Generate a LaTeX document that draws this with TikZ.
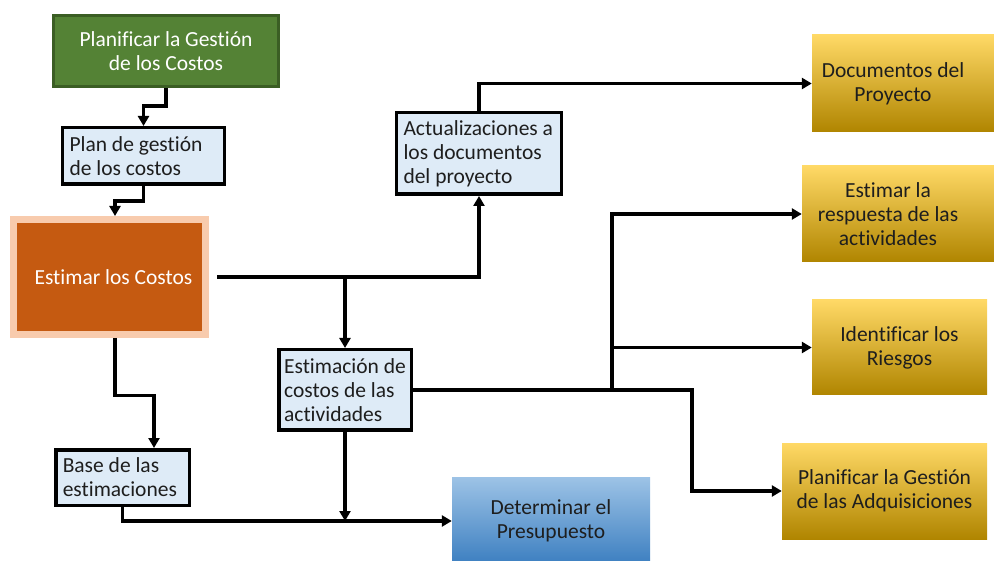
\documentclass[tikz,border=0pt]{standalone}
\usepackage{fontspec}
\setmainfont{Carlito}[Ligatures={NoCommon}]
\usetikzlibrary{arrows.meta}

\definecolor{greenfill}{HTML}{548235}
\definecolor{greenline}{HTML}{3B5E24}
\definecolor{paleblue}{HTML}{DEEBF7}
\definecolor{rust}{HTML}{C55A11}
\definecolor{peach}{HTML}{F8CBAD}
\definecolor{goldtop}{HTML}{FFD966}
\definecolor{goldmid}{HTML}{FFC000}
\definecolor{goldbot}{HTML}{B08500}
\definecolor{bluetop}{HTML}{9DC3E6}
\definecolor{bluebot}{HTML}{3B7EC0}
\definecolor{darktext}{HTML}{1E1E1E}

\tikzset{
  every node/.style={font=\fontsize{21.5}{24}\selectfont},
  arr/.style={line width=3.5pt, -{Triangle[length=10pt,width=11pt]}},
  docbox/.style={draw=black, line width=3.5pt, fill=paleblue, align=flush left,
    inner xsep=7pt, inner ysep=0pt, text=darktext},
  greenbox/.style={draw=greenline, line width=3pt, fill=greenfill, text=white,
    align=center, inner sep=0pt},
  rustbox/.style={draw=peach, line width=7pt, fill=rust, text=white,
    align=center, inner sep=0pt},
  goldbox/.style={top color=goldtop, middle color=goldmid, bottom color=goldbot,
    draw=none, align=center, inner sep=0pt, text=darktext},
  goldtext/.style={align=center, inner sep=0pt, text=darktext},
  bluebox/.style={top color=bluetop, bottom color=bluebot, draw=none,
    align=center, inner sep=0pt, text=darktext},
}

\begin{document}
\begin{tikzpicture}[x=1pt, y=-1pt]
  \useasboundingbox (0,0) rectangle (994,561);
  \clip (0,0) rectangle (994,561);

  % process boxes
  \node[greenbox, minimum width=225pt, minimum height=71pt] (plangc) at (166,51)
    {Planificar la Gestión\\de los Costos};
  \node[rustbox, minimum width=192pt, minimum height=115pt] (estc) at (109.5,277)
    {\hspace*{8pt}Estimar los Costos};
  \node[bluebox, minimum width=198pt, minimum height=88pt] (pres) at (551,521)
    {Determinar el\\Presupuesto};

  % gold target boxes
  \node[goldbox, minimum width=188pt, minimum height=97pt] (docp) at (906,83.5) {};
  \node[goldtext] (docptxt) at (893,83.5) {Documentos del\\Proyecto};
  \node[goldbox, minimum width=198pt, minimum height=96pt] (resp) at (901,214) {};
  \node[goldtext] (resptxt) at (888,214) {Estimar la\\respuesta de las\\actividades};
  \node[goldbox, minimum width=175pt, minimum height=95pt] (ries) at (899.5,347.5)
    {Identificar los\\Riesgos};
  \node[goldbox, minimum width=205pt, minimum height=96pt] (adq) at (884.5,491)
    {Planificar la Gestión\\de las Adquisiciones};

  % documents
  \node[docbox, text width=148pt, minimum height=56.5pt] (plan) at (143.5,156)
    {Plan de gestión\\de los costos};
  \node[docbox, text width=151pt, minimum height=81.5pt] (act) at (479,153.5)
    {Actualizaciones a\\los documentos\\del proyecto};
  \node[docbox, inner xsep=0pt, minimum width=132.5pt, minimum height=80.5pt] (estim) at (345,390)
    {Estimación de\\costos de las\\actividades};
  \node[docbox, text width=119.5pt, minimum height=55.5pt] (base) at (122.5,477.5)
    {Base de las\\estimaciones};

  % junction columns
  \coordinate (colA) at (612,0);
  \coordinate (colB) at (692,0);

  % connectors
  \draw[arr] (plangc.south) -- ++(0,18) -| (plan.north);
  \draw[arr] (plan.south) -- ++(0,15) -| ([xshift=5.5pt]estc.north);
  \draw[arr] ([xshift=5.5pt]estc.south) -- ++(0,57.5) -| ([xshift=31.5pt]base.north);
  \draw[arr] ([xshift=8pt]estc.east) -| (act.south);
  \draw[arr] (estim.north |- estc.east) -- (estim.north);
  \draw[arr] (act.north) |- (docp.west);
  \draw[arr] (estim.east) -| (colA |- resp.west) -- (resp.west);
  \draw[arr] (colA |- ries.west) -- (ries.west);
  \draw[arr] (colA |- estim.east) -- (colB |- estim.east) |- (adq.west);
  \draw[arr] (estim.south) -- (estim.south |- pres.west);
  \draw[arr] (base.south) |- (pres.west);
\end{tikzpicture}
\end{document}
